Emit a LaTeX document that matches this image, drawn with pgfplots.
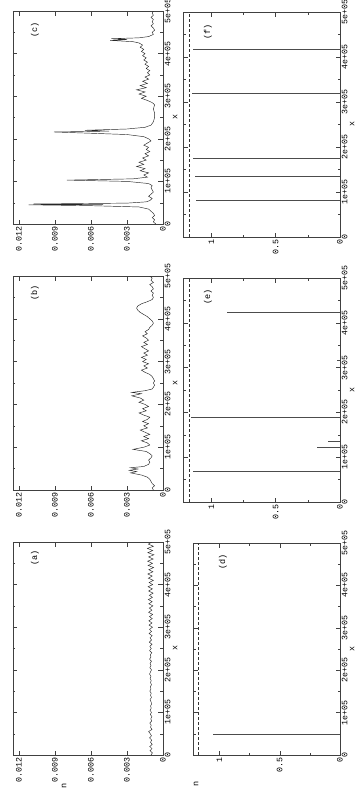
\documentclass[border=0pt]{standalone}
\usepackage{pgfplots}
\pgfplotsset{compat=1.18}
\usepackage{pgfplotstable}
\usepackage{fontspec}
\setmainfont{Liberation Mono}

\pgfplotstableread{
x v
0 0.00100
5000 0.00088
10000 0.00108
15000 0.00092
20000 0.00110
25000 0.00090
30000 0.00104
35000 0.00094
40000 0.00112
45000 0.00096
50000 0.00106
55000 0.00120
60000 0.00092
65000 0.00104
70000 0.00098
75000 0.00110
80000 0.00094
85000 0.00102
90000 0.00092
95000 0.00106
100000 0.00096
105000 0.00108
110000 0.00098
115000 0.00104
120000 0.00094
125000 0.00100
130000 0.00108
135000 0.00096
140000 0.00104
145000 0.00098
150000 0.00110
155000 0.00100
160000 0.00106
165000 0.00096
170000 0.00104
175000 0.00098
180000 0.00108
185000 0.00100
190000 0.00112
195000 0.00104
200000 0.00096
205000 0.00110
210000 0.00100
215000 0.00108
220000 0.00096
225000 0.00112
230000 0.00100
235000 0.00106
240000 0.00094
245000 0.00112
250000 0.00098
255000 0.00110
260000 0.00092
265000 0.00114
270000 0.00096
275000 0.00108
280000 0.00090
285000 0.00116
290000 0.00096
295000 0.00112
300000 0.00088
305000 0.00116
310000 0.00092
315000 0.00118
320000 0.00090
325000 0.00112
330000 0.00086
335000 0.00120
340000 0.00092
345000 0.00114
350000 0.00084
355000 0.00118
360000 0.00090
365000 0.00122
370000 0.00088
375000 0.00114
380000 0.00082
385000 0.00120
390000 0.00088
395000 0.00124
400000 0.00086
405000 0.00116
410000 0.00080
415000 0.00122
420000 0.00090
425000 0.00126
430000 0.00084
435000 0.00118
440000 0.00078
445000 0.00124
450000 0.00088
455000 0.00128
460000 0.00082
465000 0.00120
470000 0.00076
475000 0.00126
480000 0.00086
485000 0.00130
490000 0.00080
495000 0.00122
500000 0.00092
}\dataA

\pgfplotstableread{
x v
0 0.0008
5000 0.0009
10000 0.0007
15000 0.0009
20000 0.0010
25000 0.0011
30000 0.0013
35000 0.0018
40000 0.0027
43000 0.0022
46000 0.0028
49000 0.0021
52000 0.0027
55000 0.0016
60000 0.0012
65000 0.0011
70000 0.0012
75000 0.0010
80000 0.0009
85000 0.0011
90000 0.0014
95000 0.0025
100000 0.0016
105000 0.0011
110000 0.0013
115000 0.0018
120000 0.0012
125000 0.0016
130000 0.0011
135000 0.0015
140000 0.0019
145000 0.0013
150000 0.0016
155000 0.0012
160000 0.0017
165000 0.0013
170000 0.0011
175000 0.0016
180000 0.0020
185000 0.0014
190000 0.0017
195000 0.0012
200000 0.0015
205000 0.0020
210000 0.0016
215000 0.0019
220000 0.0026
225000 0.0018
228000 0.0026
232000 0.0015
236000 0.0009
240000 0.0008
245000 0.0007
250000 0.0008
255000 0.0007
260000 0.0008
265000 0.0009
270000 0.0011
275000 0.0015
280000 0.0018
285000 0.0013
290000 0.0016
295000 0.0012
300000 0.0017
305000 0.0014
310000 0.0018
315000 0.0013
320000 0.0016
325000 0.0012
330000 0.0015
335000 0.0018
340000 0.0013
345000 0.0016
350000 0.0012
355000 0.0014
360000 0.0017
365000 0.0013
370000 0.0015
375000 0.0012
380000 0.0011
385000 0.0009
390000 0.0008
395000 0.0009
400000 0.0011
405000 0.0013
410000 0.0016
415000 0.0019
420000 0.0021
425000 0.0022
430000 0.0021
435000 0.0018
440000 0.0013
445000 0.0009
450000 0.0008
455000 0.0009
460000 0.0008
465000 0.0010
470000 0.0008
475000 0.0009
480000 0.0011
485000 0.0008
490000 0.0010
495000 0.0009
500000 0.0011
}\dataB

\pgfplotstableread{
x v
0 0.0006
5000 0.0008
10000 0.0007
15000 0.0009
20000 0.0007
25000 0.0008
30000 0.0010
35000 0.0012
40000 0.0020
43000 0.0060
45000 0.0112
46000 0.0050
47000 0.0108
49000 0.0030
52000 0.0014
55000 0.0011
60000 0.0009
65000 0.0012
70000 0.0010
75000 0.0008
80000 0.0009
85000 0.0010
90000 0.0009
95000 0.0012
100000 0.0030
103000 0.0080
106000 0.0025
110000 0.0013
115000 0.0016
120000 0.0012
125000 0.0019
130000 0.0015
135000 0.0022
140000 0.0016
145000 0.0020
150000 0.0014
155000 0.0017
160000 0.0012
165000 0.0015
170000 0.0011
175000 0.0014
180000 0.0012
185000 0.0016
190000 0.0013
195000 0.0010
200000 0.0012
205000 0.0016
210000 0.0030
213000 0.0060
216000 0.0091
218000 0.0045
220000 0.0065
223000 0.0030
227000 0.0015
232000 0.0010
240000 0.0008
250000 0.0007
260000 0.0007
270000 0.0008
280000 0.0007
285000 0.0009
290000 0.0013
295000 0.0018
300000 0.0014
305000 0.0020
310000 0.0015
315000 0.0022
320000 0.0014
325000 0.0019
330000 0.0013
335000 0.0017
340000 0.0012
345000 0.0015
350000 0.0011
355000 0.0013
360000 0.0011
365000 0.0014
370000 0.0012
375000 0.0015
380000 0.0013
385000 0.0016
390000 0.0014
395000 0.0017
400000 0.0015
405000 0.0018
410000 0.0016
415000 0.0019
420000 0.0017
425000 0.0020
428000 0.0025
431000 0.0044
433000 0.0030
435000 0.0043
437000 0.0020
440000 0.0012
445000 0.0008
450000 0.0009
455000 0.0007
460000 0.0008
465000 0.0010
470000 0.0008
475000 0.0009
480000 0.0008
485000 0.0010
490000 0.0008
495000 0.0009
500000 0.0008
}\dataC

\pgfplotstableread{
x v
48700 1.055
100000 0.015
200000 0.015
300000 0.012
400000 0.012
}\dataD

\pgfplotstableread{
x v
67700 1.14
123000 0.18
135000 0.09
190000 1.16
317000 0.02
423000 0.88
}\dataE

\pgfplotstableread{
x v
82200 1.12
134000 1.13
175000 1.14
319000 1.15
417000 1.14
}\dataF

\pgfplotsset{
  panel/.style={
    scale only axis, anchor=north west,
    axis line style={black!75, line width=0.5pt},
    every tick/.style={black!75, line width=0.4pt},
    tick align=inside,
    major tick length=4.5pt, minor tick length=2.5pt,
    x dir=reverse,
    ymin=0, ymax=500000,
    ytick={0,100000,200000,300000,400000,500000},
    yticklabels={0,1e+05,2e+05,3e+05,4e+05,5e+05},
    minor ytick={50000,150000,250000,350000,450000},
    yticklabel pos=right,
    yticklabel style={rotate=90, anchor=north, font=\fontsize{8.3}{9}\selectfont, inner sep=1.5pt},
    xticklabel style={rotate=90, anchor=east, font=\fontsize{8.3}{9}\selectfont, inner sep=2pt},
    scaled ticks=false,
    ylabel={x},
    ylabel style={font=\fontsize{8.3}{9}\selectfont, inner sep=1pt},
    clip=true,
  },
  toppanel/.style={panel, xmin=0, xmax=0.0125,
    xtick={0,0.003,0.006,0.009,0.012},
    xticklabels={0,0.003,0.006,0.009,0.012}},
  botpanel/.style={panel, xmin=0, xmax=1.22,
    xtick={0,0.5,1}, xticklabels={0,0.5,1},
    minor xtick={0.25,0.75}},
  curve/.style={black!85, line width=0.45pt},
  spike/.style={xcomb, black!70, line width=0.5pt, mark=none},
  thresh/.style={black!80, line width=0.5pt, dash pattern=on 3pt off 2pt},
}

\begin{document}
\begin{tikzpicture}
\useasboundingbox (0pt,0pt) rectangle (360pt,-795pt);

% (c)
\begin{axis}[toppanel, at={(13pt,-11pt)}, width=150pt, height=213pt]
\addplot[curve] table[x=v,y=x] {\dataC};
\end{axis}

% (b)
\begin{axis}[toppanel, at={(13pt,-276pt)}, width=150pt, height=214pt]
\addplot[curve] table[x=v,y=x] {\dataB};
\end{axis}

% (a)
\begin{axis}[toppanel, at={(13pt,-542pt)}, width=150pt, height=213pt]
\addplot[curve] table[x=v,y=x] {\dataA};
\end{axis}

% (f)
\begin{axis}[botpanel, at={(183pt,-12pt)}, width=157pt, height=225pt]
\addplot[thresh] coordinates {(1.175,0) (1.175,500000)};
\addplot[spike] table[x=v,y=x] {\dataF};
\end{axis}

% (e)
\begin{axis}[botpanel, at={(183pt,-278pt)}, width=157pt, height=224pt]
\addplot[thresh] coordinates {(1.175,0) (1.175,500000)};
\addplot[spike] table[x=v,y=x] {\dataE};
\end{axis}

% (d)
\begin{axis}[botpanel, at={(193pt,-543pt)}, width=147pt, height=212pt]
\addplot[thresh] coordinates {(1.175,0) (1.175,500000)};
\addplot[spike] table[x=v,y=x] {\dataD};
\end{axis}

\begin{scope}[every node/.style={rotate=90, font=\fontsize{8.5}{9}\selectfont}]
\node at (35pt,-30pt) {(c)};
\node at (35pt,-293pt) {(b)};
\node at (35pt,-558pt) {(a)};
\node at (208pt,-32pt) {(f)};
\node at (208pt,-297pt) {(e)};
\node at (223pt,-562pt) {(d)};
\node at (64pt,-786pt) {n};
\node at (196pt,-784pt) {n};
\end{scope}
\end{tikzpicture}
\end{document}
